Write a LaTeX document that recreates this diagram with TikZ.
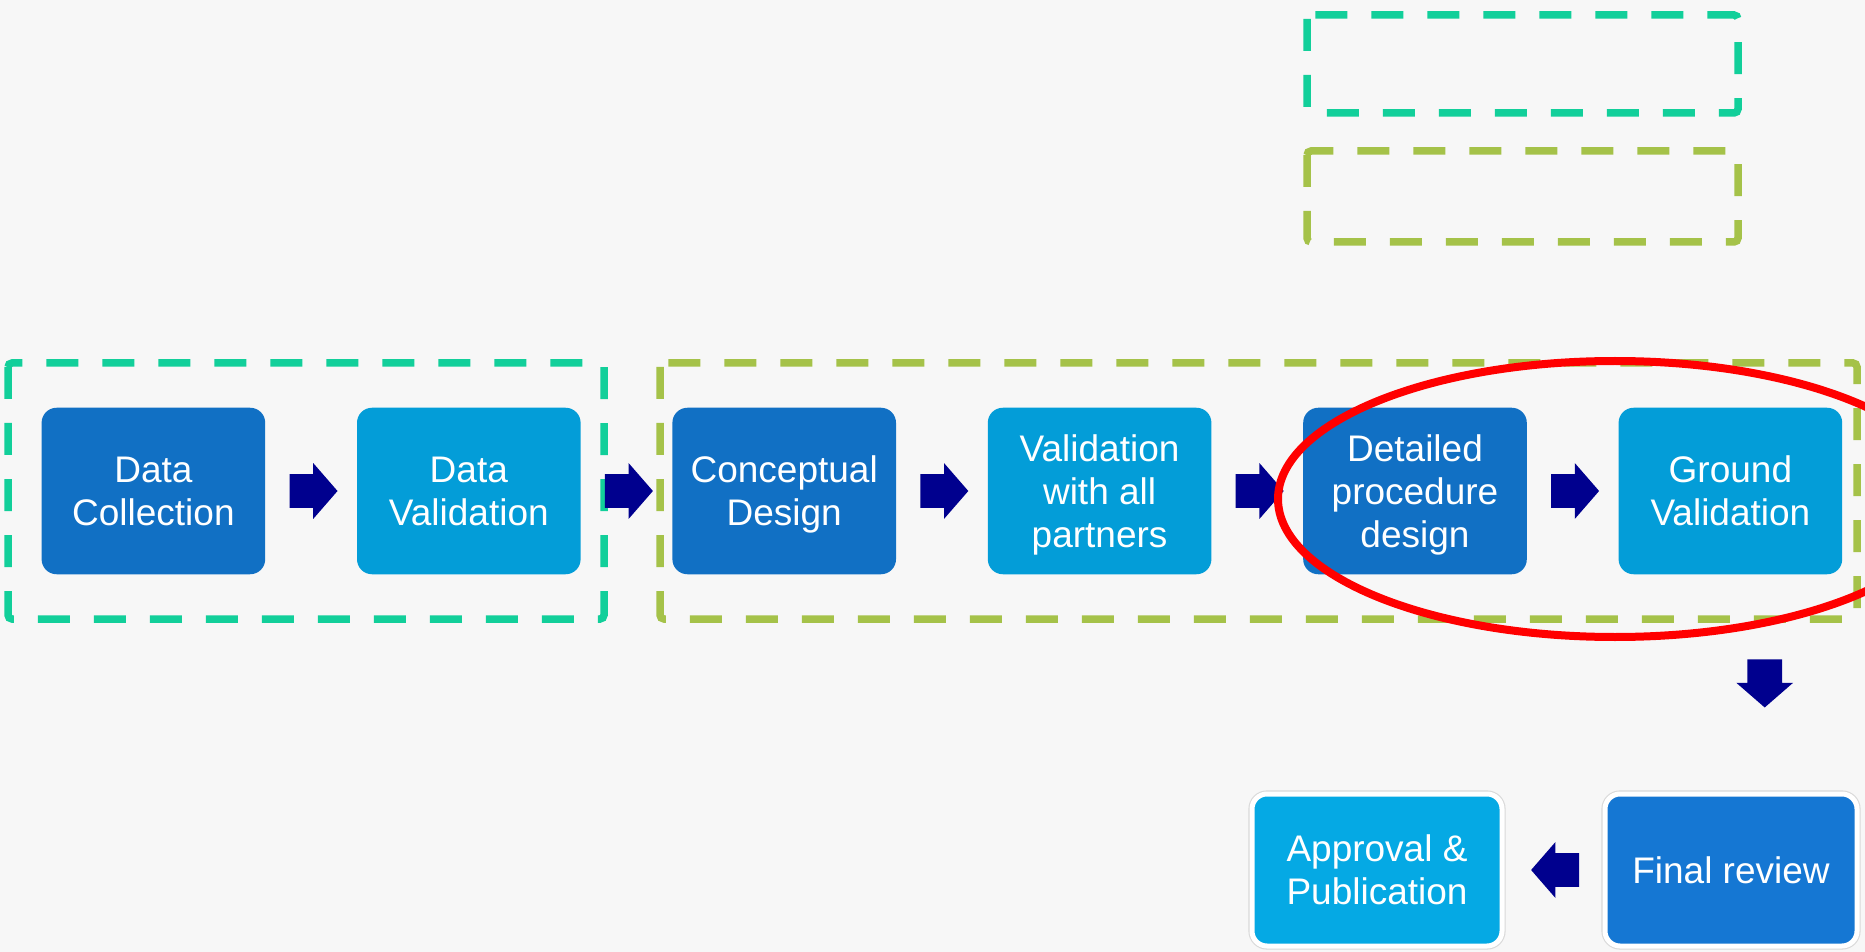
\documentclass[tikz,border=0pt]{standalone}
\usepackage{fontspec}
\setmainfont{Liberation Sans}
\usetikzlibrary{positioning,calc,shapes.arrows}
\definecolor{bgcol}{HTML}{F7F7F7}
\definecolor{darkbox}{HTML}{1170C4}
\definecolor{lightbox}{HTML}{039DD8}
\definecolor{finalcol}{HTML}{1577D3}
\definecolor{approvcol}{HTML}{05A9E4}
\definecolor{navyarrow}{HTML}{00008E}
\definecolor{tealdash}{HTML}{12CF9A}
\definecolor{olivedash}{HTML}{A5C249}
\tikzset{
  stepbox/.style={rounded corners=7.5pt, minimum width=111.8pt, minimum height=83.25pt,
    inner sep=0pt, text depth=0pt, text=white, align=center, font=\fontsize{18.5}{21.5}\selectfont},
  dkbox/.style={stepbox, fill=darkbox},
  ltbox/.style={stepbox, fill=lightbox},
  endbox/.style={stepbox, draw=white, line width=2.5pt, minimum height=76pt,
    preaction={draw=black!15, line width=3.6pt}},
  blockarrow/.style={single arrow, fill=navyarrow, inner xsep=0pt, inner ysep=8.25pt,
    minimum height=24pt, single arrow head extend=5.5pt, single arrow tip angle=98},
  downarrow/.style={blockarrow, inner xsep=8.5pt, inner ysep=0pt, shape border rotate=270},
  tealframe/.style={draw=tealdash, line width=3.75pt, dash pattern=on 16pt off 12pt, rounded corners=2pt},
  oliveframe/.style={tealframe, draw=olivedash},
}
\begin{document}
\begin{tikzpicture}[x=0.5pt,y=-0.5pt,node distance=45.5pt]
	\fill[bgcol] (0,0) rectangle (1865,952);
	\clip (0,0) rectangle (1865,952);
	% legend frames
	\draw[tealframe] (1307,15) rectangle (1738,113);
	\draw[oliveframe] (1307,151) rectangle (1738,242);
	% group frames
	\draw[tealframe] (8,363) rectangle (604,619);
	\draw[oliveframe] (660,363) rectangle (1857,619);
	% steps
	\node[dkbox] (collect) at (153.4,491) {Data\\Collection};
	\node[ltbox, right=of collect] (datval) {Data\\Validation};
	\node[dkbox, right=of datval] (concept) {Conceptual\\Design};
	\node[ltbox, right=of concept] (partners) {Validation\\with all\\partners};
	\node[dkbox, right=of partners] (detail) {Detailed\\procedure\\design};
	\node[ltbox, right=of detail] (ground) {Ground\\Validation};
	\node[endbox, fill=finalcol, minimum width=126pt] (review) at (1731,870) {Final review};
	\node[endbox, fill=approvcol, minimum width=125pt] (approval) at (1377,870) {Approval \&\\Publication};
	% arrows
	\node[blockarrow, anchor=tail] (a1) at ($(collect.east)!0.5!(datval.west)+(-22,0)$) {};
	\node[blockarrow, anchor=tail] (a2) at ($(datval.east)!0.5!(concept.west)+(-22,0)$) {};
	\node[blockarrow, anchor=tail] (a3) at ($(concept.east)!0.5!(partners.west)+(-22,0)$) {};
	\node[blockarrow, anchor=tail] (a4) at ($(partners.east)!0.5!(detail.west)+(-22,0)$) {};
	\node[blockarrow, anchor=tail] (a5) at ($(detail.east)!0.5!(ground.west)+(-22,0)$) {};
	\node[downarrow, anchor=tail] (a6) at ($(ground.south)!0.5!(review.north)+(34,-24)$) {};
	\node[blockarrow, shape border rotate=180, anchor=tail] (a7) at ($(review.west)!0.5!(approval.east)+(26,0)$) {};
	% highlight
	\draw[red, line width=4pt] (1615,499) ellipse [x radius=337, y radius=138];
\end{tikzpicture}
\end{document}
